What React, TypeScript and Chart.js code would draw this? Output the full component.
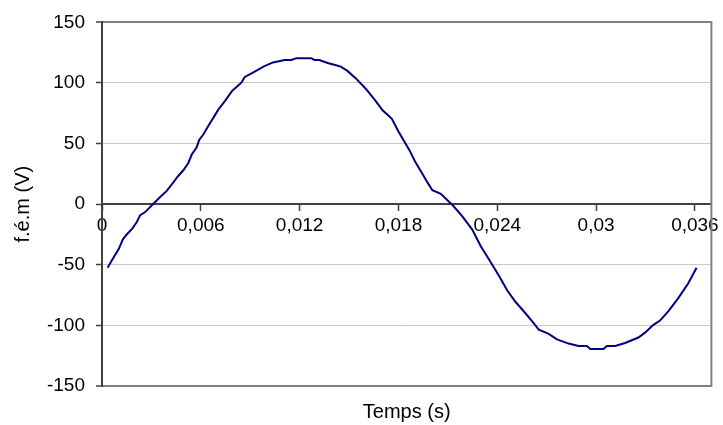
import React, { useEffect, useRef } from "react";
import { Chart, registerables } from "chart.js";

Chart.register(...registerables);

const times: number[] = [
  0.00034, 0.0007, 0.001, 0.00127, 0.0015, 0.00185, 0.00212, 0.00232, 0.00262, 0.00309,
  0.00353, 0.00393, 0.00433, 0.00464, 0.00494, 0.00524, 0.00545, 0.00575, 0.0059, 0.00615,
  0.00645, 0.00675, 0.00706, 0.00746, 0.0079, 0.00827, 0.00847, 0.00867, 0.00908, 0.00954,
  0.0098, 0.01038, 0.01109, 0.0115, 0.0118, 0.0127, 0.0129, 0.0132, 0.0137, 0.0141,
  0.0145, 0.0149, 0.0154, 0.016, 0.01654, 0.01704, 0.0176, 0.018, 0.01865, 0.019,
  0.01946, 0.01976, 0.02006, 0.02057, 0.02107, 0.02127, 0.02188, 0.02248, 0.02299, 0.02349,
  0.0241, 0.0246, 0.0251, 0.02571, 0.02611, 0.02652, 0.02712, 0.02763, 0.02833, 0.02894,
  0.02944, 0.02965, 0.03045, 0.03065, 0.03116, 0.03176, 0.03257, 0.03297, 0.03348, 0.03388,
  0.03438, 0.03499, 0.03559, 0.0361,
];

const emf: number[] = [
  -52.5, -44, -37.5, -29, -25, -20, -14.5, -9, -6.5, 0,
  6, 11, 18, 23.5, 28, 34, 41, 47, 53, 57.5,
  64.5, 71, 78, 85, 93.5, 98, 100.5, 105, 108, 111.5,
  113.5, 117, 119, 119, 120.5, 120.5, 119, 119, 116.5, 115,
  113.5, 110, 104, 95.5, 86.5, 77.5, 70.5, 60, 45, 35.5,
  25, 18, 11.5, 8.5, 2, -0.5, -10, -21, -34.5, -45.5,
  -59, -71, -80.5, -90, -96.5, -103.5, -107, -111.5, -115, -117,
  -117, -119.5, -119.5, -117, -117, -114.5, -110, -106, -99.5, -96,
  -88.5, -77.5, -65.5, -52.5,
];

const xTickValues: number[] = [0, 0.006, 0.012, 0.018, 0.024, 0.03, 0.036];
const xTickLabels: string[] = ["0", "0,006", "0,012", "0,018", "0,024", "0,03", "0,036"];
const yTickValues: number[] = [-150, -100, -50, 0, 50, 100, 150];
const yTickLabels: string[] = ["-150", "-100", "-50", "0", "50", "100", "150"];

const FONT = "'Liberation Sans', Arial, sans-serif";

const frameRight = {
  id: "frameRight",
  afterDraw(chart: any) {
    const { ctx, chartArea } = chart;
    ctx.save();
    ctx.strokeStyle = "#808080";
    ctx.lineWidth = 2;
    ctx.beginPath();
    ctx.moveTo(chartArea.right, chartArea.top - 1);
    ctx.lineTo(chartArea.right, chartArea.bottom + 1);
    ctx.stroke();
    ctx.restore();
  },
};

export default function App() {
  const ref = useRef<HTMLCanvasElement | null>(null);

  useEffect(() => {
    if (!ref.current) return;
    const chart = new Chart(ref.current, {
      type: "scatter",
      data: {
        datasets: [
          {
            data: times.map((t, i) => ({ x: t, y: emf[i] })),
            showLine: true,
            borderColor: "#000080",
            borderWidth: 2,
            pointRadius: 0,
            pointHoverRadius: 0,
            tension: 0,
            fill: false,
          },
        ],
      },
      options: {
        animation: false,
        responsive: false,
        events: [],
        layout: { padding: { top: 20, right: 10, left: 0, bottom: 0 } },
        plugins: {
          legend: { display: false },
          tooltip: { enabled: false },
          title: {
            display: true,
            position: "bottom",
            fullSize: false,
            text: "Temps (s)",
            color: "#000000",
            font: { family: FONT, size: 20, weight: "normal" },
            padding: { top: 14, bottom: 1 },
          },
        },
        scales: {
          x: {
            type: "linear",
            position: { y: 0 } as any,
            min: 0,
            max: 0.037,
            afterFit(scale: any) {
              scale.height = 0;
            },
            afterBuildTicks(scale: any) {
              scale.ticks = xTickValues.map((v) => ({ value: v }));
            },
            ticks: {
              autoSkip: false,
              maxRotation: 0,
              includeBounds: false,
              padding: 4,
              color: "#000000",
              font: { family: FONT, size: 19 },
              callback: (_v: any, i: number) => xTickLabels[i],
            },
            grid: {
              drawOnChartArea: false,
              drawTicks: true,
              tickLength: 6,
              tickColor: "#404040",
              tickWidth: 1.5,
            },
            border: { display: true, color: "#404040", width: 2 },
          },
          y: {
            type: "linear",
            min: -150,
            max: 150,
            afterFit(scale: any) {
              scale.width = 102;
            },
            afterBuildTicks(scale: any) {
              scale.ticks = yTickValues.map((v) => ({ value: v }));
            },
            ticks: {
              padding: 11,
              color: "#000000",
              font: { family: FONT, size: 19 },
              callback: (_v: any, i: number) => yTickLabels[i],
            },
            grid: {
              color: (ctx: any) => {
                const v = ctx.tick ? ctx.tick.value : null;
                if (v === 0) return "rgba(0,0,0,0)";
                if (v === 150 || v === -150) return "#808080";
                return "#c8c8c8";
              },
              lineWidth: (ctx: any) => {
                const v = ctx.tick ? ctx.tick.value : null;
                return v === 150 || v === -150 ? 2 : 1;
              },
              drawTicks: true,
              tickLength: 6,
              tickColor: "#404040",
              tickWidth: 1.5,
            },
            border: { display: true, color: "#404040", width: 2 },
            title: {
              display: true,
              text: "f.é.m (V)",
              color: "#000000",
              font: { family: FONT, size: 20, weight: "normal" },
              padding: { top: 11, bottom: 0 },
            },
          },
        },
      },
      plugins: [frameRight],
    });
    return () => chart.destroy();
  }, []);

  return (
    <div style={{ position: "absolute", left: 0, top: 0, width: 723, height: 425, background: "#ffffff" }}>
      <canvas ref={ref} width={723} height={425} style={{ display: "block" }} />
    </div>
  );
}
